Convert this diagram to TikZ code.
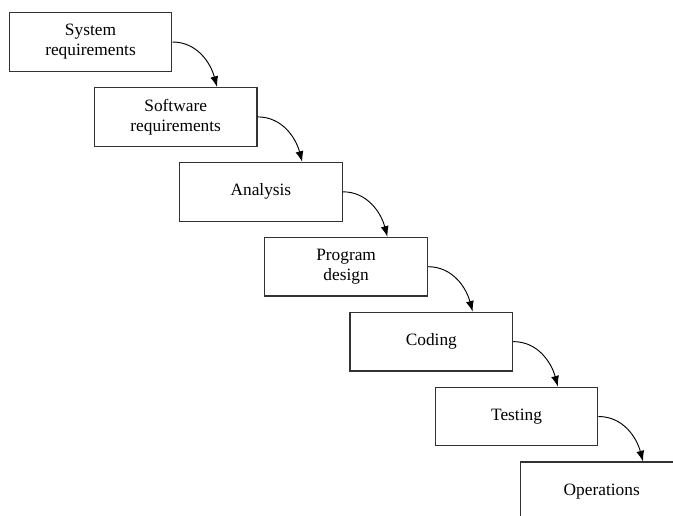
\documentclass[tikz,border=0pt]{standalone}
\usepackage{fontspec}
\setmainfont{Liberation Serif}
\usepackage{tikz}
\usetikzlibrary{positioning,calc,arrows.meta}

\begin{document}
\begin{tikzpicture}[x=0.75pt,y=0.75pt,
    phase/.style={draw=black!80, line width=0.9pt, minimum width=122pt, minimum height=44pt,
        inner sep=0pt, align=center, font=\fontsize{13}{15}\selectfont},
    flow/.style={-{Latex[length=8pt,width=6pt]}, line width=0.7pt, out=0, in=105}]
    \clip (0,0) rectangle (673,515);

    % Phases
    \node[phase] (sysreq) at (90.5,473) {System\\requirements};
    \node[phase] (swreq) at (175.7,398.1) {Software\\requirements};
    \node[phase] (analysis) at (260.9,323.2) {Analysis};
    \node[phase] (progdesign) at (346.1,248.3) {Program\\design};
    \node[phase] (coding) at (431.3,173.4) {Coding};
    \node[phase] (testing) at (516.5,98.5) {Testing};
    \node[phase] (operations) at (601.7,23.6) {Operations};

    % Hand-over arrows
    \draw[flow] (sysreq.east) to ([xshift=31pt]swreq.north);
    \draw[flow] (swreq.east) to ([xshift=31pt]analysis.north);
    \draw[flow] (analysis.east) to ([xshift=31pt]progdesign.north);
    \draw[flow] (progdesign.east) to ([xshift=31pt]coding.north);
    \draw[flow] (coding.east) to ([xshift=31pt]testing.north);
    \draw[flow] (testing.east) to ([xshift=31pt]operations.north);
\end{tikzpicture}
\end{document}
